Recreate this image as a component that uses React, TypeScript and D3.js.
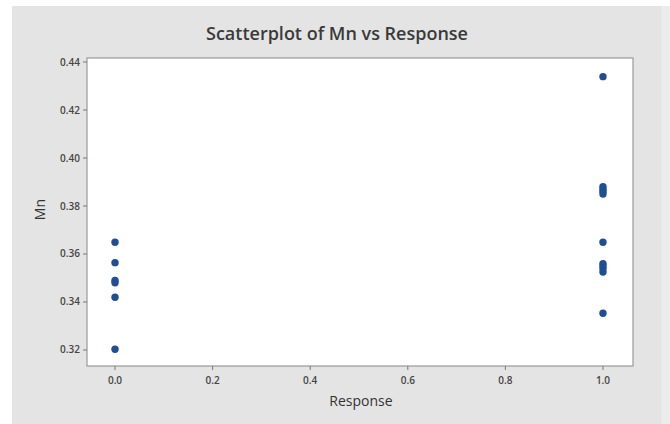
import React from "react"
import { scaleLinear } from "d3"

// Response (0/1) and Mn values
const responseZero = [0, 0, 0, 0, 0, 0]
const mnZero = [0.3649, 0.3564, 0.349, 0.348, 0.342, 0.3203]
const responseOne = [1, 1, 1, 1, 1, 1, 1, 1, 1, 1, 1]
const mnOne = [0.4339, 0.388, 0.387, 0.386, 0.385, 0.3649, 0.356, 0.355, 0.354, 0.3525, 0.3353]
const xTicks = [0.0, 0.2, 0.4, 0.6, 0.8, 1.0]
const yTicks = [0.32, 0.34, 0.36, 0.38, 0.4, 0.42, 0.44]

const W = 670
const H = 424
const font = "'Open Sans', 'DejaVu Sans', sans-serif"

export default function App() {
  const margin = { top: 58, right: 37, bottom: 58, left: 87 }
  const width = W - margin.left - margin.right
  const height = H - margin.top - margin.bottom

  const x = scaleLinear().domain([-0.0574, 1.0615]).range([0, width])
  const y = scaleLinear().domain([0.31333, 0.44167]).range([height, 0])

  const points = responseZero
    .map((r, i) => [r, mnZero[i]])
    .concat(responseOne.map((r, i) => [r, mnOne[i]]))

  return (
    <svg
      width={W}
      height={H}
      style={{ position: "absolute", left: 0, top: 0, background: "#ffffff" }}
    >
      <rect x={12} y={6} width={649} height={H - 6} fill="#e4e4e4" />
      <rect x={661} y={6} width={9} height={H - 6} fill="#ececec" />
      <text
        x={337}
        y={40}
        textAnchor="middle"
        fontFamily={font}
        fontSize={18}
        fontWeight={600}
        fill="#3a3a3a"
      >
        Scatterplot of Mn vs Response
      </text>
      <g transform={"translate(" + margin.left + "," + margin.top + ")"}>
        <rect width={width} height={height} fill="#ffffff" stroke="#9a9a9a" strokeWidth={1.2} />
        {yTicks.map(t => (
          <g key={"y" + t} transform={"translate(0," + y(t) + ")"}>
            <line x1={-4} x2={0} stroke="#777" />
            <text
              x={-7}
              dy="0.35em"
              textAnchor="end"
              fontFamily={font}
              fontSize={10}
              fontWeight={600}
              fill="#444"
            >
              {t.toFixed(2)}
            </text>
          </g>
        ))}
        {xTicks.map(t => (
          <g key={"x" + t} transform={"translate(" + x(t) + "," + height + ")"}>
            <line y1={0} y2={4} stroke="#777" />
            <text
              y={18}
              textAnchor="middle"
              fontFamily={font}
              fontSize={10}
              fontWeight={600}
              fill="#444"
            >
              {t.toFixed(1)}
            </text>
          </g>
        ))}
        {points.map((p, i) => (
          <circle key={i} cx={x(p[0])} cy={y(p[1])} r={3.7} fill="#1f4e96" />
        ))}
        <text
          x={x(0.5) + 2}
          y={height + 40}
          textAnchor="middle"
          fontFamily={font}
          fontSize={14}
          fill="#333"
        >
          Response
        </text>
        <text
          transform={"translate(" + -42 + "," + y(0.3785) + ") rotate(-90)"}
          textAnchor="middle"
          fontFamily={font}
          fontSize={14}
          fill="#333"
        >
          Mn
        </text>
      </g>
    </svg>
  )
}
